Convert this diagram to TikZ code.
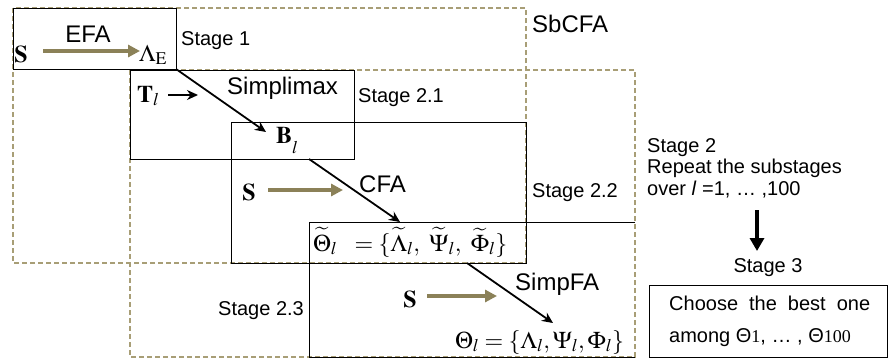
\documentclass[tikz,border=0pt]{standalone}
\usepackage{mathptmx}
\usepackage[no-math]{fontspec}
\setmainfont{Liberation Sans}
\newfontfamily\tms{Liberation Serif}
\usetikzlibrary{arrows.meta}
\definecolor{arrowolive}{RGB}{139,129,88}
\definecolor{dashcol}{RGB}{168,158,118}
\tikzset{
  big/.style={font=\fontsize{24}{28}\selectfont, inner sep=0pt},
  stg/.style={font=\fontsize{20}{24}\selectfont, inner sep=0pt},
  mth/.style={font=\fontsize{24}{28}\selectfont, inner sep=0pt},
  solidframe/.style={draw=black, line width=1pt},
  dashframe/.style={draw=dashcol, line width=1.3pt, dash pattern=on 5pt off 3pt},
  olivearrow/.style={draw=arrowolive, line width=4pt, -{Triangle[length=12pt,width=12pt]}},
  blackarrow/.style={draw=black, line width=1.8pt, -{Stealth[length=11pt,width=10pt]}},
  downarrow/.style={draw=black, line width=4pt, -{Triangle[length=13pt,width=14pt]}}
}
\begin{document}
\begin{tikzpicture}[x=1pt,y=-1pt]
\useasboundingbox (0,0) rectangle (890,359);
% dashed boxes
\draw[dashframe] (13,8) rectangle (526,263);
\draw[dashframe] (130,70) rectangle (635,357);
% solid boxes
\draw[solidframe] (13,8) rectangle (176,69);
\draw[solidframe] (130,70) rectangle (354,159);
\draw[solidframe] (231,122) rectangle (526,263);
\draw[solidframe] (635,222) -- (309,222) -- (309,357) -- (635,357);
\draw[solidframe] (649,285) rectangle (887,357);
% coordinates
\coordinate (s1corner) at (176,69);
\coordinate (bin) at (266,132);
\coordinate (bout) at (309,159);
\coordinate (thin) at (400,222);
\coordinate (thout) at (467,263);
\coordinate (fin) at (553,323);
% Stage 1
\node[mth, anchor=base] (s1) at (21,62) {$\mathbf{S}$};
\node[mth, anchor=base west] (lamE) at (139,61) {$\Lambda_{\mathrm{E}}$};
\node[big, anchor=base] (efa) at (88,42) {EFA};
\node[stg, anchor=base west] (st1) at (181,45) {Stage 1};
\node[big, anchor=base west] (sbcfa) at (532,32) {SbCFA};
\coordinate (oa1s) at (43,51);
\coordinate (oa1e) at (140,51);
\draw[olivearrow] (oa1s) -- (oa1e);
% Stage 2.1
\node[mth, anchor=base west] (tl) at (137,102) {$\mathbf{T}_{l}$};
\coordinate (ta1) at (168,95);
\coordinate (ta2) at (198,95);
\draw[blackarrow] (ta1) -- (ta2);
\node[big, anchor=base west] (simpl) at (227,94) {Simplimax};
\node[stg, anchor=base west] (st21) at (358,102) {Stage 2.1};
\node[mth, anchor=base west] (bl) at (276,143) {$\mathbf{B}$\raisebox{-10pt}{$\scriptstyle l$}};
\draw[blackarrow] (s1corner) -- (bin);
% Stage 2.2
\node[mth, anchor=base] (s2) at (249,200) {$\mathbf{S}$};
\coordinate (oa2s) at (268,190);
\coordinate (oa2e) at (343,190);
\draw[olivearrow] (oa2s) -- (oa2e);
\node[big, anchor=base west] (cfa) at (359,192) {CFA};
\node[stg, anchor=base west] (st22) at (532,197) {Stage 2.2};
\draw[blackarrow] (bout) -- (thin);
\node[mth, anchor=base west] (thtilde) at (313,251)
  {$\widetilde{\Theta}_{l}\ \;= \{\widetilde{\Lambda}_{l},\ \widetilde{\Psi}_{l},\ \widetilde{\Phi}_{l}\}$};
% Stage 2.3
\node[stg, anchor=base west] (st23) at (218,315) {Stage 2.3};
\node[mth, anchor=base] (s3) at (410,307) {$\mathbf{S}$};
\coordinate (oa3s) at (427,296);
\coordinate (oa3e) at (497,296);
\draw[olivearrow] (oa3s) -- (oa3e);
\node[big, anchor=base west] (simpfa) at (515,290) {SimpFA};
\draw[blackarrow] (thout) -- (fin);
\node[mth, anchor=base west] (theta) at (455,348)
  {$\Theta_{l} = \{\Lambda_{l}, \Psi_{l}, \Phi_{l}\}$};
% Stage 2 text
\node[stg, anchor=base west] (st2a) at (647,152) {Stage 2};
\node[stg, anchor=base west] (st2b) at (647,173) {Repeat the substages};
\node[stg, anchor=base west] (st2c) at (647,195) {over \textit{l} =1, … ,100};
\coordinate (da1) at (757,210);
\coordinate (da2) at (757,251);
\draw[downarrow] (da1) -- (da2);
\node[stg, anchor=base] (st3) at (768,272) {Stage 3};
\node[stg, anchor=base west] (ch1) at (669,310) {\makebox[201pt][s]{Choose the best one}};
\node[stg, anchor=base west] (ch2) at (669,342)
  {among Θ{\tms\fontsize{18}{18}\selectfont 1}, … , Θ{\tms\fontsize{18}{18}\selectfont 100}};
\end{tikzpicture}
\end{document}
